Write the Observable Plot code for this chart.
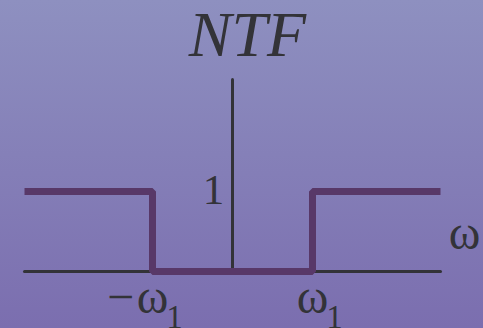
<!DOCTYPE html>
<html>
<head>
<meta charset="utf-8">
<script src="https://cdn.jsdelivr.net/npm/d3@7"></script>
<script src="https://cdn.jsdelivr.net/npm/@observablehq/plot@0.6"></script>
<style>
  html, body { margin: 0; padding: 0; width: 483px; height: 328px; overflow: hidden; }
  body { background: linear-gradient(to bottom, #8e90c0, #7b6eaf); }
  svg { display: block; }
</style>
</head>
<body>
<div id="chart"></div>
<script>
// Frequency (in units of ω1) and NTF magnitude
const omega = [-2.6, -1, -1, 1, 1, 2.6];
const ntf   = [1, 1, 0, 0, 1, 1];
// Axis extents
const xAxisX = [-2.6, 2.6];
const xAxisY = [0, 0];
const yAxisX = [0, 0];
const yAxisY = [0, 2.4];
// Labels
const titleText = "NTF";
const yTickLabel = "1";
const axisLabel = "ω";
const cutoffs = [-1, 1];

const textColor = "#333338";
const serif = "'Liberation Serif', 'Times New Roman', serif";

const chart = Plot.plot({
  width: 483,
  height: 328,
  margin: 0,
  style: { background: "transparent", overflow: "visible" },
  x: { domain: [-2.6, 2.6], range: [24, 440], axis: null },
  y: { domain: [0, 1], range: [271, 191], axis: null },
  marks: [
    Plot.line(xAxisX, { x: xAxisX, y: xAxisY, stroke: textColor, strokeWidth: 3 }),
    Plot.line(yAxisX, { x: yAxisX, y: yAxisY, stroke: textColor, strokeWidth: 3 }),
    Plot.line(omega, { x: omega, y: ntf, stroke: "#583868", strokeWidth: 7, strokeLinejoin: "miter", strokeLinecap: "butt" }),
    // title
    Plot.text([titleText], { x: 0, y: 2.4, text: d => d, dx: 15, dy: -24, lineAnchor: "bottom", fontSize: 64, fontStyle: "italic", fontFamily: serif, fill: textColor }),
    // y tick label
    Plot.text([yTickLabel], { x: 0, y: 1, text: d => d, dx: -19, dy: 12, lineAnchor: "bottom", fontSize: 43, fontFamily: serif, fill: textColor }),
    // ω axis label
    Plot.text([axisLabel], { x: 2.6, y: 0, text: d => d, dx: 24, dy: -23, lineAnchor: "bottom", fontSize: 48, fontFamily: serif, fill: textColor }),
    // cutoff labels ω
    Plot.text(cutoffs, { x: d => d, y: 0, text: () => "ω", dy: 41, lineAnchor: "bottom", fontSize: 48, fontFamily: serif, fill: textColor }),
    // minus sign
    Plot.text([-1], { x: d => d, y: 0, text: () => "−", dx: -32, dy: 41, lineAnchor: "bottom", fontSize: 48, fontFamily: serif, fill: textColor }),
    // subscripts
    Plot.text(cutoffs, { x: d => d, y: 0, text: () => "1", dx: 22, dy: 56, lineAnchor: "bottom", fontSize: 33, fontFamily: serif, fill: textColor })
  ]
});
document.getElementById("chart").appendChild(chart);
</script>
</body>
</html>
